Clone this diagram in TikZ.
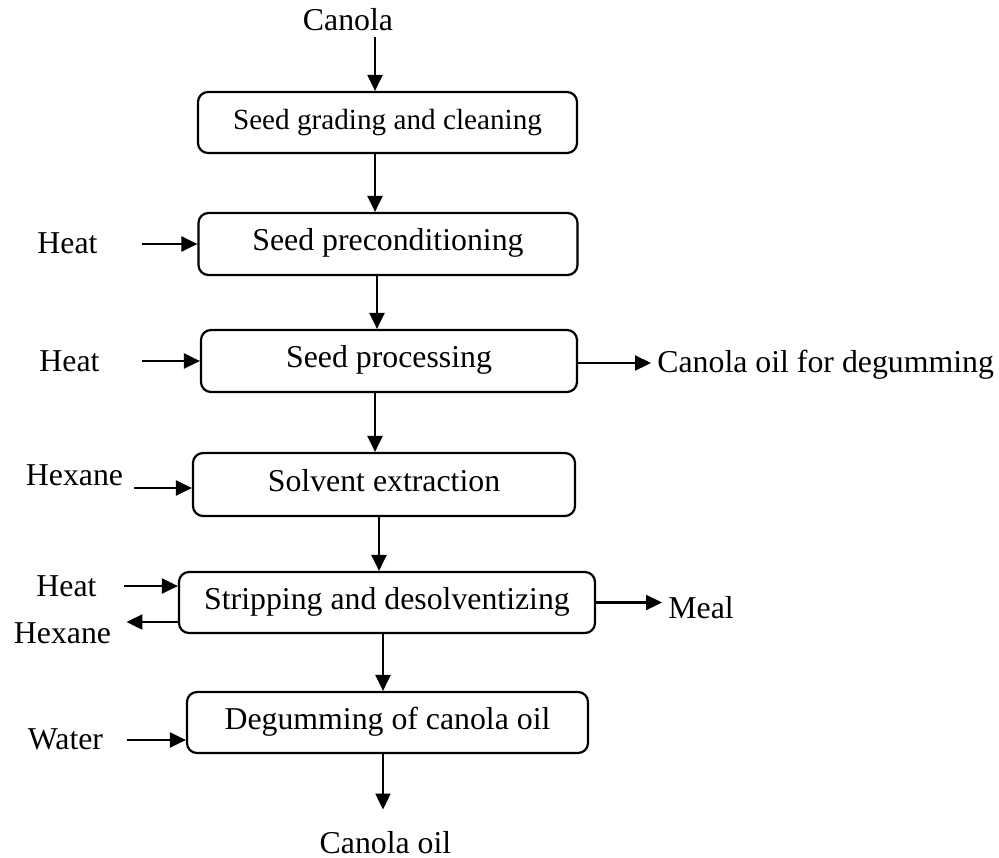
\documentclass[tikz,border=0pt]{standalone}
\usepackage{fontspec}
\setmainfont{Liberation Serif}
\usetikzlibrary{arrows.meta, positioning}

\begin{document}
\begin{tikzpicture}[x=0.5pt, y=-0.5pt,
    stage/.style={draw, line width=1.1pt, rounded corners=5pt, inner sep=0pt, text height=0.66em, text depth=0pt, font=\fontsize{15.9}{19}\selectfont},
    stream/.style={inner sep=3pt, font=\fontsize{15.9}{19}\selectfont},
    flow/.style={line width=1.1pt, -{Triangle[length=8pt, width=7.5pt]}}]
    \useasboundingbox (0,0) rectangle (999,857);

    % Main process line
    \node[stage, minimum width=189.5pt, minimum height=30.5pt, font=\fontsize{14.6}{17}\selectfont] (grade) at (387.5,122.5) {Seed grading and cleaning};
    \node[stage, minimum width=189.5pt, minimum height=31pt] (precond) at (388,244) {Seed preconditioning};
    \node[stage, minimum width=188pt, minimum height=31pt] (process) at (389,361) {Seed processing};
    \node[stage, minimum width=191pt, minimum height=31.5pt] (extract) at (384,484.5) {Solvent extraction};
    \node[stage, minimum width=208pt, minimum height=30.5pt] (strip) at (387,602.5) {Stripping and desolventizing};
    \node[stage, minimum width=200.5pt, minimum height=30.5pt] (degum) at (387.5,722.5) {Degumming of canola oil};

    % Feed and product
    \node[stream, anchor=base] (canola) at (348,30) {Canola};
    \node[stream, anchor=base] (oil) at (385.5,853) {Canola oil};

    \draw[flow] ([xshift=13.5pt]canola.south) -- ([xshift=-6.25pt]grade.north);
    \draw[flow] ([xshift=-6.25pt]grade.south) -- ([xshift=-6.5pt]precond.north);
    \draw[flow] ([xshift=-5.5pt]precond.south) -- ([xshift=-6pt]process.north);
    \draw[flow] ([xshift=-7pt]process.south) -- ([xshift=-4.5pt]extract.north);
    \draw[flow] ([xshift=-2.5pt]extract.south) -- ([xshift=-4pt]strip.north);
    \draw[flow] ([xshift=-2pt]strip.south) -- ([xshift=-2.25pt]degum.north);
    \draw[flow] ([xshift=-2.25pt]degum.south) -- ([xshift=-1.25pt, yshift=7.5pt]oil.north);

    % Side streams - left
    \node[stream, anchor=base] (heat1) at (67.5,253.5) {Heat};
    \node[stream, anchor=base] (heat2) at (69.5,371) {Heat};
    \node[stream, anchor=base] (hexane1) at (74.5,485) {Hexane};
    \node[stream, anchor=base] (heat3) at (66.5,596) {Heat};
    \node[stream, anchor=base] (hexane2) at (62.5,643) {Hexane};
    \node[stream, anchor=base] (water) at (65.5,749) {Water};

    \coordinate (hexin) at ([yshift=-1.75pt]extract.west);
    \coordinate (heatin) at ([yshift=8.25pt]strip.west);
    \coordinate (hexout) at ([yshift=-9.75pt]strip.west);
    \coordinate (waterin) at ([yshift=-8.75pt]degum.west);

    \draw[flow] ([xshift=19.25pt]heat1.east |- precond.west) -- (precond.west);
    \draw[flow] ([xshift=18.25pt]heat2.east |- process.west) -- (process.west);
    \draw[flow] ([xshift=2.5pt]hexane1.east |- hexin) -- (hexin);
    \draw[flow] ([xshift=10.75pt]heat3.east |- heatin) -- (heatin);
    \draw[flow] (hexout) -- ([xshift=4.5pt]hexane2.east |- hexout);
    \draw[flow] ([xshift=8.75pt]water.east |- waterin) -- (waterin);

    % Side streams - right
    \node[stream, anchor=base west] (crude) at (651,372) {Canola oil for degumming};
    \node[stream, anchor=base west] (meal) at (662,618) {Meal};

    \coordinate (oilout) at ([yshift=-1pt]process.east);
    \draw[flow] (oilout) -- (crude.west |- oilout);
    \draw[flow] (strip.east) -- (meal.west |- strip.east);
\end{tikzpicture}
\end{document}
